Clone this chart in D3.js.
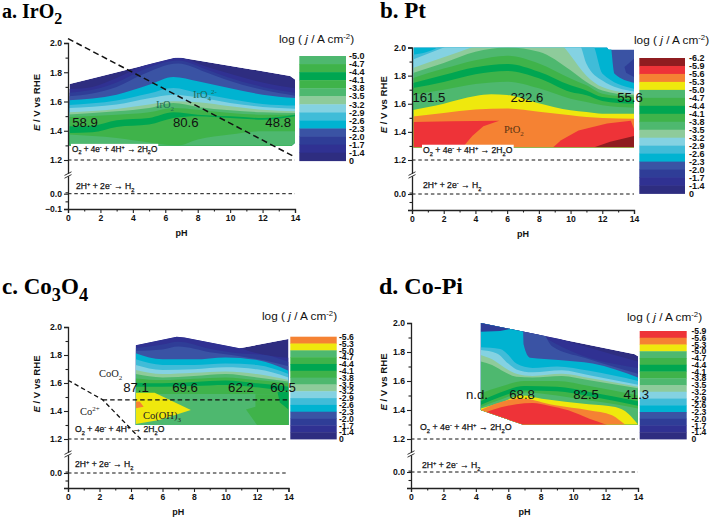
<!DOCTYPE html>
<html><head><meta charset="utf-8">
<script src="https://cdn.jsdelivr.net/npm/d3@7"></script>
<style>html,body{margin:0;background:#fff}svg{display:block}</style></head>
<body><svg id="c" width="711" height="519"></svg>
<script>
const palette = ["#2e2d80","#303192","#2f3d97","#3a53a4","#00b3d1","#40bcd8","#84d2e2","#8ecb9b","#4eb86f","#3fb34a","#00a651","#3fb34a","#4eb86f","#efe80d","#f58233","#ee3338","#8f1c20"];
const phMajor = [0,2,4,6,8,10,12,14];
const phMinor = [1,3,5,7,9,11,13];
const eMajor = [0,1.2,1.4,1.6,1.8,2.0];
const eMinor = [-0.05,0.05,1.3,1.5,1.7,1.9];
const logLabels = ["-6.2","-5.9","-5.6","-5.3","-5.0","-4.7","-4.4","-4.1","-3.8","-3.5","-3.2","-2.9","-2.6","-2.3","-2.0","-1.7","-1.4","0"];

// Panel a: IrO2
const irOutline = [[0.1,1.72],[1.6,1.76],[6.6,1.90],[7,1.90],[13.7,1.775],[14,1.75],[14,1.32],[13.8,1.30],[0.1,1.30]];
const irContours = [
 [[0,1.685],[1.5,1.70],[3,1.76],[4.5,1.84],[6.8,1.9],[8.5,1.84],[10,1.79],[12,1.73],[14,1.69]],
 [[0,1.66],[1.5,1.68],[3,1.73],[4.5,1.81],[6.8,1.88],[8.5,1.82],[10,1.76],[12,1.70],[14,1.66]],
 [[0,1.635],[1.5,1.655],[3,1.70],[4.5,1.78],[6.8,1.86],[8.5,1.80],[10,1.74],[12,1.68],[14,1.64]],
 [[0,1.608],[3,1.647],[5,1.715],[6.5,1.768],[8,1.738],[10,1.69],[12,1.647],[14,1.624]],
 [[0,1.576],[3,1.606],[5,1.654],[6.5,1.692],[8,1.658],[10,1.617],[12,1.583],[14,1.572]],
 [[0,1.556],[3,1.579],[5,1.622],[6.5,1.647],[8,1.629],[10,1.59],[12,1.563],[14,1.551]],
 [[0,1.526],[3,1.549],[5,1.579],[6.5,1.601],[8,1.595],[10,1.567],[12,1.544],[14,1.533]],
 [[0,1.51],[3,1.533],[5,1.556],[6.5,1.59],[8,1.563],[10,1.54],[12,1.526],[14,1.522]],
 [[0,1.494],[3,1.51],[5,1.526],[6.5,1.556],[8,1.544],[10,1.522],[12,1.51],[14,1.51]],
 [[0,1.43],[1.5,1.435],[3,1.472],[5,1.487],[6.5,1.526],[8,1.51],[10,1.499],[12,1.487],[14,1.51]],
 [[0,1.385],[1.5,1.39],[3,1.426],[5,1.442],[6.5,1.487],[8,1.50],[10,1.487],[12,1.476],[14,1.50]],
 [[0,1.374],[3,1.35],[5,1.32],[6.8,1.30],[8,1.34],[10,1.374],[12,1.396],[14,1.396]]
];
const irPatches = [];
const irValues = [["58.9",1.05],["80.6",7.26],["48.8",12.96]];

// Panel b: Pt
const ptOutline = [[0.1,2.0],[12.3,2.0],[12.4,1.985],[14,1.985],[14,1.29],[0.1,1.29]];
const ptContours = [
 [[0,2.3],[12.3,2.3],[12.56,2.0],[12.77,1.814],[14,1.75]],
 [[0,1.947],[1.6,2.0],[2,2.05],[4,2.15],[8,2.2],[11,2.1],[11.5,2.0],[12,1.816],[14,1.707]],
 [[0,1.911],[2,2.0],[4,2.08],[8,2.15],[10,2.1],[10.67,2.0],[11,1.885],[12,1.766],[14,1.688]],
 [[0,1.852],[2,1.93],[4,2.01],[6,2.08],[8,2.08],[9.6,2.0],[10,1.944],[11,1.80],[12,1.719],[14,1.672]],
 [[0,1.816],[2,1.89],[4,1.97],[6,2.0],[8,1.97],[10,1.838],[11,1.755],[12,1.695],[14,1.66]],
 [[0,1.781],[2,1.85],[4,1.91],[6,1.942],[8,1.887],[10,1.78],[11,1.731],[12,1.672],[14,1.648]],
 [[0,1.745],[2,1.805],[4,1.86],[6,1.883],[8,1.828],[10,1.731],[11,1.695],[12,1.648],[14,1.631]],
 [[0,1.71],[2,1.755],[4,1.81],[6,1.833],[8,1.781],[10,1.683],[11,1.66],[12,1.62],[14,1.60]],
 [[0,1.662],[2,1.70],[4,1.74],[6,1.757],[8,1.71],[10,1.636],[11,1.612],[12,1.589],[14,1.572]],
 [[0,1.555],[2,1.60],[3,1.63],[4,1.655],[5,1.667],[6,1.662],[8,1.603],[10,1.553],[11,1.541],[12,1.529],[14,1.529]],
 [[0,1.508],[2,1.535],[4,1.56],[6,1.567],[8,1.544],[10,1.518],[11,1.506],[12,1.499],[14,1.494]]
];
const ptPatches = [
 {c:2,pts:[[14,1.92],[13.4,1.861],[13.5,1.82],[14,1.79]]},
 {c:15,pts:[[0.1,1.47],[2.5,1.475],[5.5,1.48],[4.5,1.44],[3.8,1.37],[3.2,1.29],[0.1,1.29]]},
 {c:15,pts:[[8.9,1.29],[9.4,1.34],[10.5,1.41],[12.3,1.46],[13.8,1.48],[14,1.42],[14,1.29]]},
 {c:16,pts:[[11.5,1.29],[12.5,1.33],[14,1.37],[14,1.29]]}
];
const ptValues = [["161.5",1.07],["232.6",7.25],["55.6",13.75]];

// Panel c: Co3O4
const coOutline = [[4.3,1.87],[6.9,1.93],[7.4,1.925],[10.9,1.848],[14,1.915],[14,1.30],[4.3,1.30]];
const coContours = [
 [[4.3,2.0],[10.5,1.9],[11.2,1.84],[14,1.78]],
 [[4.3,1.85],[6,1.875],[7,1.895],[9,1.845],[11,1.81],[12.5,1.80],[14,1.75]],
 [[4.3,1.83],[6,1.84],[7,1.86],[9,1.82],[11,1.79],[12.5,1.76],[14,1.72]],
 [[4.3,1.812],[6,1.769],[8,1.769],[10,1.783],[12,1.764],[14,1.688]],
 [[4.3,1.769],[6,1.729],[8,1.729],[10,1.74],[12,1.729],[14,1.664]],
 [[4.3,1.729],[6,1.693],[8,1.698],[10,1.712],[12,1.698],[14,1.64]],
 [[4.3,1.693],[6,1.664],[8,1.674],[10,1.683],[12,1.664],[14,1.621]],
 [[4.3,1.664],[6,1.64],[8,1.65],[10,1.664],[12,1.64],[14,1.61]],
 [[4.3,1.633],[6,1.621],[8,1.631],[10,1.64],[12,1.621],[14,1.598]],
 [[4.3,1.602],[6,1.598],[8,1.607],[10,1.617],[12,1.598],[14,1.574]],
 [[4.3,1.574],[6,1.574],[8,1.579],[10,1.586],[12,1.569],[14,1.538]],
 [[4.3,1.531],[6,1.521],[8,1.521],[10,1.521],[12,1.521],[14,1.514]]
];
const coPatches = [
 {c:11,pts:[[11.9,1.52],[11.9,1.43],[11.3,1.41],[12,1.30],[14,1.30],[14,1.52]]},
 {c:10,pts:[[13.3,1.535],[13.45,1.46],[14,1.41],[14,1.535]]},
 {c:13,pts:[[4.3,1.531],[5.5,1.531],[7.8,1.407],[5.8,1.336],[4.3,1.307]]},
 {c:14,pts:[[4.3,1.467],[4.55,1.467],[4.8,1.431],[4.3,1.419]]}
];
const coValues = [["87.1",4.32],["69.6",7.43],["62.2",10.98],["60.5",13.65]];

// Panel d: Co-Pi
const cpOutline = [[4.3,2.0],[13.8,1.785],[14,1.77],[14,1.30],[6.9,1.30],[4.3,1.40]];
const cpContours = [
 [[4.3,2.2],[9,1.90],[11,1.83],[14,1.735]],
 [[4.3,2.2],[7.8,1.93],[10,1.80],[14,1.69]],
 [[4.3,2.3],[7.9,2.0],[8.7,1.84],[10.7,1.76],[14,1.65]],
 [[4.3,2.3],[6.85,2.2],[6.95,1.85],[7.35,1.76],[9.1,1.745],[11.2,1.72],[14,1.625]],
 [[4.3,1.832],[5.5,1.82],[6,1.78],[6.5,1.72],[7.5,1.69],[9,1.70],[11,1.67],[14,1.60]],
 [[4.3,1.813],[5.3,1.79],[6,1.72],[6.5,1.68],[7.5,1.66],[9.3,1.675],[11,1.64],[14,1.575]],
 [[4.3,1.78],[5,1.75],[5.8,1.69],[6.5,1.65],[7.5,1.635],[9.3,1.65],[11,1.62],[14,1.56]],
 [[4.3,1.735],[5,1.71],[5.8,1.66],[6.5,1.63],[7.5,1.625],[9.3,1.635],[11,1.605],[14,1.55]],
 [[4.3,1.515],[5.5,1.56],[7,1.60],[9,1.60],[11,1.565],[14,1.5]],
 [[4.3,1.46],[5.5,1.52],[7,1.565],[9,1.56],[11,1.525],[14,1.46]],
 [[4.3,1.435],[5.5,1.49],[7,1.535],[9,1.53],[11,1.495],[14,1.43]],
 [[4.3,1.42],[5.5,1.47],[7,1.52],[9,1.50],[11,1.465],[12.6,1.44],[14,1.41]],
 [[4.3,1.41],[5.5,1.45],[6.83,1.50],[8.07,1.478],[10.95,1.44],[12.6,1.42],[13.4,1.375],[14,1.30]],
 [[4.3,1.40],[6.8,1.48],[8.9,1.432],[10.95,1.398],[12.4,1.363],[13.2,1.30],[14,1.25]],
 [[4.3,1.37],[5,1.40],[6.5,1.44],[7.5,1.448],[8.5,1.43],[9.7,1.398],[11,1.34],[12,1.30],[14,1.2]]
];
const cpPatches = [{c:2,pts:[[4.3,2.01],[6.2,1.96],[5.5,1.945],[4.3,1.94]]}];
const cpValues = [["n.d.",4.07],["68.8",6.85],["82.5",10.8],["41.3",13.9]];

const aLines = [[[0,2.03],[14,1.22]]];
const cLines = [[[0,1.62],[2.2,1.48],[4.7,1.15]],[[2.2,1.48],[14,1.48]]];

const panels = [
 {id:"a",title:"a. IrO_2",ts:20,tx:2,ty:18,x:[68,295],y:[209,193.7,160,43],outline:irOutline,contours:irContours,patches:irPatches,first:0,
  values:irValues,valE:1.46,lines:aLines,cb:{x:299.3,w:46.7,y0:56,y1:160.7,first:"-5.0",lx:349,tx:279,ty:43,fs:9},
  o2:{x:72,y:152,bg:true,fs:8.2},h2:{x:76,y:189},ytitle:40,
  notes:[{t:"IrO_2",x:156,y:108,c:"#1d6a57",s:10.5},{t:"IrO_4^{2-}",x:193,y:98,c:"#1d6a57",s:10.5}]},
 {id:"b",title:"b. Pt",ts:23,tx:380,ty:18,x:[412,634],y:[210,194,160,47.5],outline:ptOutline,contours:ptContours,patches:ptPatches,first:3,
  values:ptValues,valE:1.648,lines:[],cb:{x:639.3,w:45.7,y0:58,y1:193.5,first:"-6.2",lx:689,tx:634,ty:44,fs:9},
  o2:{x:423,y:153,bg:true,fs:8.6},h2:{x:423,y:188},ytitle:387,
  notes:[{t:"PtO_2",x:504,y:133,c:"#5a3312",s:10.5}]},
 {id:"c",title:"c. Co_3O_4",ts:23,tx:2,ty:294,x:[68,288.5],y:[488,473,439,327],outline:coOutline,contours:coContours,patches:coPatches,first:0,
  values:coValues,valE:1.571,lines:cLines,cb:{x:290.3,w:46.4,y0:336.7,y1:439,first:"-5.6",lx:339,tx:262,ty:320,fs:8.6},
  o2:{x:75,y:432,fs:8.6},h2:{x:75,y:467},ytitle:40,
  notes:[{t:"CoO_2",x:99,y:377,c:"#222",s:10.5},{t:"Co^{2+}",x:80,y:415,c:"#222",s:10.5},{t:"Co(OH)_3",x:143,y:419,c:"#222",s:10.5}]},
 {id:"d",title:"d. Co-Pi",ts:24,tx:379,ty:294,x:[411,638],y:[488,472,439,323],outline:cpOutline,contours:cpContours,patches:cpPatches,first:0,
  values:cpValues,valE:1.51,lines:[],cb:{x:639.7,w:47,y0:331,y1:439,first:"-5.9",lx:691.5,tx:627,ty:321,fs:8.6},
  o2:{x:420,y:430,fs:8.8},h2:{x:422,y:468},ytitle:387,
  notes:[]}
];

const svg = d3.select("#c");
const SANS = "'Liberation Sans',Arial,sans-serif", SERIF = "'Liberation Serif','Times New Roman',serif";

// small markup: _x subscript, ^x superscript, *x* italic, {..} groups
function rich(sel, str, subScale){
  const re = /([_^])(\{[^}]*\}|.)|\*([^*]+)\*|[^_^*]+/g; let m, back = 0;
  const fs = parseFloat(sel.attr("font-size"));
  while((m = re.exec(str))){
    const ts = sel.append("tspan");
    let dy = back; back = 0;
    if(m[1]){
      const shift = (m[1]==="_"?0.3:-0.38)*fs;
      dy += shift; back = -shift;
      ts.attr("font-size",fs*(subScale||0.66)).text(m[2].replace(/[{}]/g,""));
    } else if(m[3]){ ts.attr("font-style","italic").text(m[3]); }
    else ts.text(m[0]);
    if(dy) ts.attr("dy",dy);
  }
  return sel;
}
function txt(g,x,y,s,size,opt={}){
  const t = g.append("text").attr("x",x).attr("y",y).attr("font-size",size)
    .attr("font-family",opt.family||SANS).attr("fill",opt.fill||"#111")
    .attr("font-weight",opt.weight||"normal").attr("text-anchor",opt.anchor||"start");
  if(opt.halo) t.attr("stroke","#111").attr("stroke-width",opt.halo);
  if(opt.transform) t.attr("transform",opt.transform);
  return rich(t,s,opt.sub);
}

panels.forEach(p=>{
  const g = svg.append("g");
  const x = d3.scaleLinear().domain([0,14]).range(p.x);
  const y = d3.scaleLinear().domain([-0.1,0,1.2,2.0]).range(p.y);
  const poly = d3.line().x(d=>x(d[0])).y(d=>y(d[1]));
  const clipId = "clip-"+p.id;
  g.append("clipPath").attr("id",clipId).append("path").attr("d",poly(p.outline)+"Z");

  const map = g.append("g").attr("clip-path",`url(#${clipId})`);
  map.append("path").attr("d",poly(p.outline)+"Z").attr("fill",palette[p.first]);
  const area = d3.area().x(d=>x(d[0])).y0(y(1.22)).y1(d=>y(d[1])).curve(d3.curveMonotoneX);
  map.selectAll("path.band").data(p.contours).join("path").attr("class","band")
    .attr("d",area).attr("fill",(d,i)=>palette[p.first+i+1]);
  map.selectAll("path.patch").data(p.patches).join("path").attr("class","patch")
    .attr("d",d=>poly(d.pts)+"Z").attr("fill",d=>palette[d.c]);

  // colour bar
  const labels = logLabels.slice(logLabels.indexOf(p.cb.first));
  const bandKeys = d3.range(labels.length-1);
  const cbY = d3.scaleBand().domain(bandKeys).range([p.cb.y0,p.cb.y1]);
  const cbT = d3.scalePoint().domain(labels).range([p.cb.y0,p.cb.y1]);
  g.append("g").selectAll("rect").data(bandKeys).join("rect")
    .attr("x",p.cb.x).attr("width",p.cb.w).attr("y",d=>cbY(d)).attr("height",cbY.bandwidth()+0.4)
    .attr("fill",d=>palette[labels.length-2-d]);
  g.append("g").selectAll("text").data(labels).join("text")
    .attr("x",p.cb.lx).attr("y",d=>cbT(d)+3.2).attr("font-size",p.cb.fs).attr("font-weight","bold")
    .attr("font-family",SANS).attr("fill","#111").text(d=>d);
  txt(g,p.cb.tx,p.cb.ty,"log ( *j* / A cm^{-2})",11.8,{fill:"#111"});

  // reference dashed lines
  [1.2,0].forEach(e=>{
    g.append("line").attr("x1",x(0)).attr("x2",x(14)).attr("y1",y(e)).attr("y2",y(e))
      .attr("stroke","#111").attr("stroke-width",1).attr("stroke-dasharray","3.5,2.8");
  });
  p.lines.forEach(l=>{
    g.append("path").attr("d",poly(l)).attr("fill","none").attr("stroke","#111")
      .attr("stroke-width",p.id==="a"?1.5:1.3).attr("stroke-dasharray",p.id==="a"?"6,3.5":"4.5,3");
  });

  // axes
  const style = s=>{s.selectAll("path.domain").attr("stroke","#222").attr("stroke-width",1.3);
    s.selectAll("line").attr("stroke","#222").attr("stroke-width",1.1);
    s.selectAll("text").attr("font-family",SANS).attr("font-weight","bold").attr("font-size",8.6).attr("fill","#111");};
  const bottom = p.y[0];
  g.append("g").attr("transform",`translate(0,${bottom})`)
    .call(d3.axisBottom(x).tickValues(phMajor).tickSize(4).tickPadding(2).tickFormat(d3.format("d"))).call(style);
  g.append("g").attr("transform",`translate(0,${bottom})`)
    .call(d3.axisBottom(x).tickValues(phMinor).tickSize(2.5).tickFormat("")).call(style)
    .select("path.domain").remove();
  const ya = g.append("g").attr("transform",`translate(${p.x[0]},0)`)
    .call(d3.axisLeft(y).tickValues([-0.1].concat(eMajor)).tickSize(4).tickPadding(2).tickFormat(d3.format(".1f"))).call(style);
  if(p.id!=="a") ya.selectAll(".tick").filter(d=>d===-0.1).select("text").remove();
  g.append("g").attr("transform",`translate(${p.x[0]},0)`)
    .call(d3.axisLeft(y).tickValues(eMinor).tickSize(2.5).tickFormat("")).call(style)
    .select("path.domain").remove();

  // axis break
  const by = y(1.2)+15;
  g.append("rect").attr("x",p.x[0]-2).attr("y",by-1.2).attr("width",4).attr("height",2.4).attr("fill","#fff");
  [-1.4,1.4].forEach(o=>g.append("line").attr("x1",p.x[0]-3.5).attr("x2",p.x[0]+3.5)
    .attr("y1",by+o+1.8).attr("y2",by+o-1.8).attr("stroke","#222").attr("stroke-width",0.9));

  txt(g,(p.x[0]+p.x[1])/2,bottom+27,"pH",9,{weight:"bold",anchor:"middle"});
  const ym = (p.y[3]+p.y[2])/2+1;
  txt(g,p.ytitle,ym,"*E* / V vs RHE",9.6,{weight:"bold",anchor:"middle",transform:`rotate(-90 ${p.ytitle} ${ym})`});

  // reactions
  const o2 = txt(g,p.o2.x,p.o2.y,"O_2 + 4e^- + 4H^+ → 2H_2O",p.o2.fs,{halo:0.25});
  if(p.o2.bg){ const b=o2.node().getBBox();
    g.insert("rect",()=>o2.node()).attr("x",b.x-1).attr("y",b.y).attr("width",b.width+2).attr("height",b.height).attr("fill","#fff"); }
  txt(g,p.h2.x,p.h2.y,"2H^+ + 2e^- → H_2",8.6,{halo:0.25});

  // overpotential values
  g.append("g").selectAll("text").data(p.values).join("text")
    .attr("x",d=>x(d[1])).attr("y",y(p.valE)+5).attr("text-anchor","middle")
    .attr("font-family",SANS).attr("font-size",13.2).attr("fill","#111").text(d=>d[0]);

  p.notes.forEach(n=>txt(g,n.x,n.y,n.t,n.s,{family:SERIF,fill:n.c}));
  txt(g,p.tx,p.ty,p.title,p.ts,{family:SERIF,weight:"bold",fill:"#000",sub:0.8});
});
</script></body></html>
